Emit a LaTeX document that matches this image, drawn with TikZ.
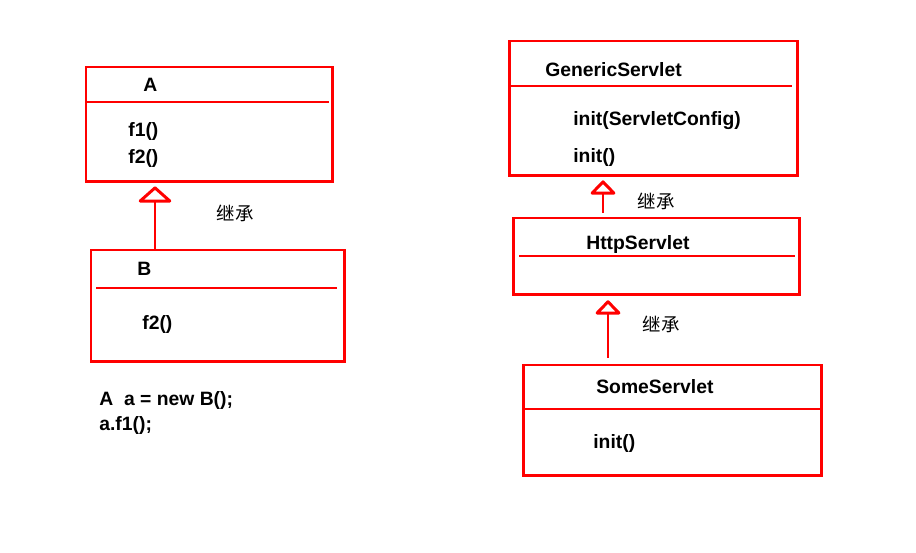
\documentclass[tikz,border=0pt]{standalone}
\usepackage{fontspec}
\setmainfont{Liberation Sans}
\newfontfamily\cjk{Noto Sans CJK SC}
\usetikzlibrary{arrows.meta}
\definecolor{ured}{HTML}{FF0000}
\tikzset{
  umlbox/.style={draw=ured, line width=1.7pt, fill=none, anchor=north west, inner sep=0pt, outer sep=0pt},
  divider/.style={draw=ured, line width=1.1pt},
  txt/.style={anchor=base west, inner sep=0pt, font=\fontsize{11}{13}\selectfont\bfseries},
  lbl/.style={inner sep=0pt, font=\fontsize{10.5}{12}\cjk},
  inhbig/.style={draw=ured, line width=1.2pt, -{Triangle[open, round, width=21pt, length=9.5pt, line width=1.7pt]}},
  inhsmall/.style={draw=ured, line width=1.2pt, -{Triangle[open, round, width=16pt, length=8.5pt, line width=1.7pt]}},
}
\begin{document}
\begin{tikzpicture}[x=0.02cm, y=-0.02cm]
\useasboundingbox[fill=white] (0,0) rectangle (916,553);
% left side
\node[umlbox, minimum width=4.94cm, minimum height=2.3cm] (A) at (86,67) {};
\draw[divider] (87,102) -- (329,102);
\node[txt] (An) at (143,92) {A};
\node[txt] (Af1) at (128,137) {f1()};
\node[txt] (Af2) at (128,164) {f2()};

\node[umlbox, minimum width=5.08cm, minimum height=2.24cm] (B) at (91,250) {};
\draw[divider] (96,288) -- (337,288);
\node[txt] (Bn) at (137,276) {B};
\node[txt] (Bf2) at (142,330) {f2()};

\coordinate (ax) at (155,0);
\draw[inhbig] (B.north -| ax) -- ([yshift=-2.5pt]A.south -| ax);
\node[lbl] (l1) at (235,213) {继承};

\node[txt] (c1) at (99,406) {A\ \ a = new B();};
\node[txt] (c2) at (99,431) {a.f1();};

% right side
\node[umlbox, minimum width=5.78cm, minimum height=2.7cm] (G) at (509,41) {};
\draw[divider] (511,86) -- (792,86);
\node[txt] (Gn) at (545,77) {GenericServlet};
\node[txt] (Gi1) at (573,126) {init(ServletConfig)};
\node[txt] (Gi2) at (573,163) {init()};

\node[umlbox, minimum width=5.74cm, minimum height=1.54cm] (H) at (513,218) {};
\draw[divider] (519,256) -- (795,256);
\node[txt] (Hn) at (586,250) {HttpServlet};

\node[umlbox, minimum width=5.98cm, minimum height=2.22cm] (S) at (523,365) {};
\draw[divider] (523,409) -- (822,409);
\node[txt] (Sn) at (596,394) {SomeServlet};
\node[txt] (Si) at (593,449) {init()};

\coordinate (gx) at (603,0);
\coordinate (hx) at (608,0);
\draw[inhsmall, shorten <=3pt] (H.north -| gx) -- ([yshift=-2.5pt]G.south -| gx);
\draw[inhsmall, shorten <=4pt] (S.north -| hx) -- ([yshift=-3pt]H.south -| hx);
\node[lbl] (l2) at (656,201) {继承};
\node[lbl] (l3) at (661,324) {继承};
\end{tikzpicture}
\end{document}
